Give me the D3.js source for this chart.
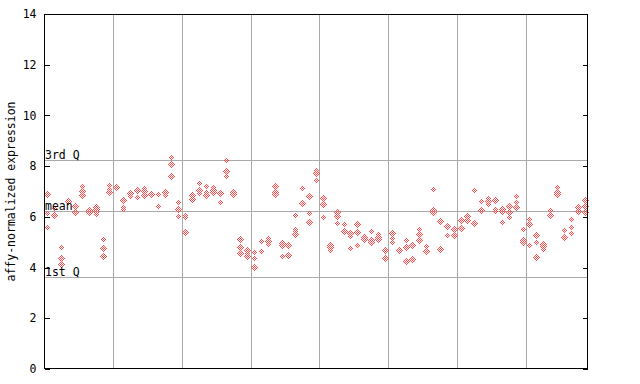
<!DOCTYPE html>
<html><head><meta charset="utf-8">
<script src="https://cdn.jsdelivr.net/npm/d3@7"></script>
<style>body{margin:0;background:#fff}svg{display:block}text{font-family:"DejaVu Sans Mono",monospace}</style>
</head><body><svg id="c" width="640" height="384"></svg>
<script>
const samples = [
 [6.89,6.14,5.59],[6.36,6.07],[4.80,4.37,4.13],[6.62,6.58],[6.43,6.18],
 [7.22,7.01,6.85],[6.30,6.26,6.18],[6.40,6.30,6.22,6.12],[5.11,4.76,4.44],[7.25,7.11,6.97],
 [7.23,7.19],[6.66,6.40,6.30],[6.93,6.81],[7.10,7.06,6.80],[7.15,7.02,6.86],
 [6.96,6.92],[6.89,6.43],[7.00,6.96,6.86],[8.35,8.07,7.61],[6.57,6.31,6.03],
 [6.07,6.00,5.39],[6.91,6.87,6.69],[7.32,7.10,7.06,6.95],[7.22,6.98,6.88],[7.17,7.07,6.97],
 [6.97,6.93,6.57],[8.24,7.82,7.61],[7.00,6.96,6.92],[5.11,4.80,4.59],[4.69,4.58,4.47],
 [4.60,4.37,4.03],[5.03,4.64],[5.15,5.05,4.92],[7.22,6.99,6.90],[4.96,4.88,4.44],
 [4.88,4.48,4.44],[6.06,5.51,5.44,5.34],[7.12,6.53],[6.81,6.14,5.78],[7.85,7.71,7.44],
 [6.73,6.51,5.98],[4.89,4.82,4.78,4.69],[6.20,6.03,5.74],[5.70,5.44],[5.37,5.33,5.24,4.76],
 [5.70,5.39,4.88],[5.22,5.13],[5.44,5.14,5.10,5.02],[5.31,5.22,5.11],[4.69,4.65,4.37],
 [5.35,5.15,5.00],[4.74,4.70],[5.09,4.80,4.25],[4.88,4.37,4.33],[5.51,5.31,5.07],
 [4.85,4.69,4.65],[7.08,6.27,6.20],[5.84,4.73],[5.62,5.27],[5.51,5.28,5.24],
 [5.86,5.82,5.57],[6.03,5.87,5.83],[7.04,5.75,5.71],[6.63,6.27],[6.73,6.61,6.52],
 [6.65,6.30,6.22],[6.30,6.22,5.78],[6.41,6.19,6.01],[6.81,6.59,6.38],[5.51,5.11,5.07,5.00],
 [5.90,5.70,4.88],[5.27,5.00,4.40],[4.92,4.86,4.82,4.73],[6.26,6.06],[7.16,6.99,6.89],
 [5.48,5.19],[5.90,5.61,5.35],[6.42,6.38,6.22],[6.66,6.41,6.18]
];
const yTicks = [0,2,4,6,8,10,12,14];
const refLines = [{label:"3rd Q", v:8.23},{label:"mean", v:6.23},{label:"1st Q", v:3.62}];
const groupSize = 10;

const L=44, R=588, T=14, B=369;
const svg = d3.select("#c");
const n = samples.length;
const x = d3.scaleLinear().domain([-0.5, n-0.5]).range([L, R]);
const y = d3.scaleLinear().domain([0,14]).range([B, T]);

const defs = svg.append("defs");
const pat = defs.append("pattern").attr("id","chk").attr("patternUnits","userSpaceOnUse")
  .attr("width",2).attr("height",2);
pat.append("rect").attr("x",0).attr("y",0).attr("width",1).attr("height",1).attr("fill","#ff4d4d");
pat.append("rect").attr("x",1).attr("y",1).attr("width",1).attr("height",1).attr("fill","#ff4d4d");

// grid
const g = svg.append("g").attr("shape-rendering","crispEdges");
const bounds = d3.range(groupSize-0.5, n-1, groupSize);
g.selectAll(".vg").data(bounds).join("line")
  .attr("x1",d=>Math.round(x(d))+0.5).attr("x2",d=>Math.round(x(d))+0.5)
  .attr("y1",T).attr("y2",B).attr("stroke","#aaaaaa");
g.selectAll(".hg").data(refLines).join("line")
  .attr("x1",L).attr("x2",R).attr("y1",d=>Math.round(y(d.v))+0.5).attr("y2",d=>Math.round(y(d.v))+0.5)
  .attr("stroke","#aaaaaa");

// points
const pts = [];
samples.forEach((arr,i)=>arr.forEach(v=>pts.push({i,v})));
svg.append("g").attr("shape-rendering","crispEdges").selectAll("path").data(pts).join("path")
  .attr("d",d=>{const cx=Math.round(x(d.i))+0.5, cy=Math.round(y(d.v))+0.5; return `M${cx},${cy-3.6}L${cx+3.6},${cy}L${cx},${cy+3.6}L${cx-3.6},${cy}Z`;})
  .attr("fill","url(#chk)");

// ref labels
svg.selectAll(".rl").data(refLines).join("text")
  .attr("x",L+1).attr("y",d=>Math.round(y(d.v))-1)
  .attr("font-size",11.5).attr("fill","#000").text(d=>d.label);

// axes
const yl = d3.axisLeft(y).tickValues(yTicks).tickSize(-5).tickPadding(8).tickFormat(d3.format("d"));
const ya = svg.append("g").attr("transform",`translate(${L+0.5},0)`).call(yl);
ya.selectAll("text").attr("font-size",11.5).attr("font-family","DejaVu Sans Mono").attr("fill","#000");
ya.select(".domain").remove();
ya.selectAll("line").attr("stroke","#000").attr("shape-rendering","crispEdges");
const yr = d3.axisRight(y).tickValues(yTicks).tickSize(-5).tickFormat("");
const yra = svg.append("g").attr("transform",`translate(${R-0.5},0)`).call(yr);
yra.select(".domain").remove();
yra.selectAll("line").attr("stroke","#000").attr("shape-rendering","crispEdges");

svg.append("rect").attr("x",L+0.5).attr("y",T+0.5).attr("width",R-L-1).attr("height",B-T-1)
  .attr("fill","none").attr("stroke","#000").attr("shape-rendering","crispEdges");

svg.append("text").attr("transform",`translate(15,${(T+B)/2}) rotate(-90)`)
  .attr("text-anchor","middle").attr("font-size",11.5).attr("fill","#000")
  .text("affy-normalized expression");
</script></body></html>
